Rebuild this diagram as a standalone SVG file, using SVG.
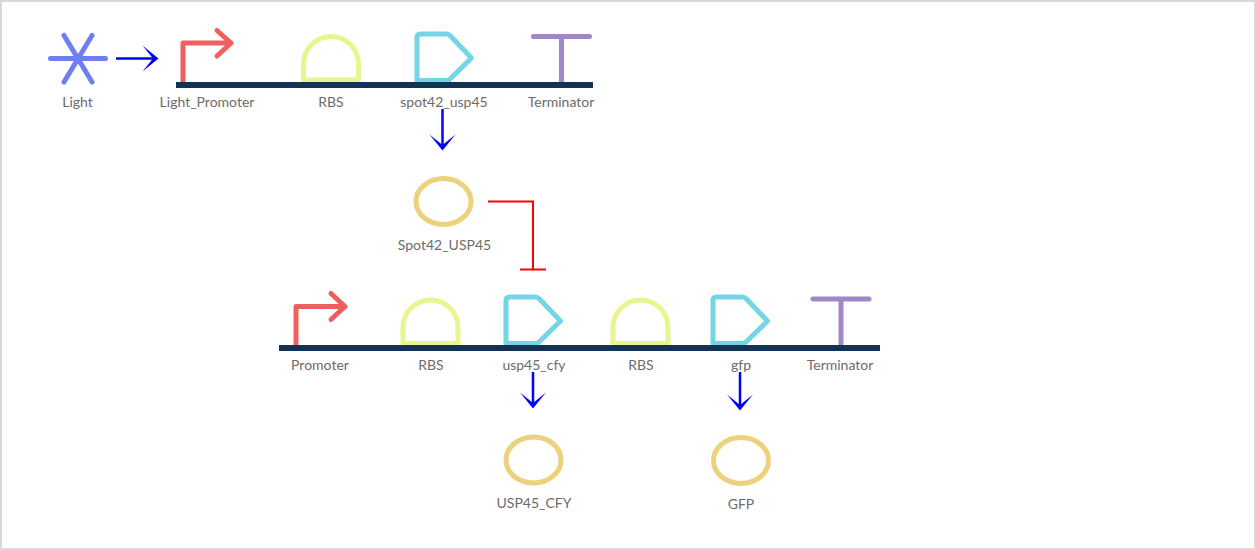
<svg xmlns="http://www.w3.org/2000/svg" width="1256" height="550" viewBox="0 0 1256 550">
<defs>
<style>
text{font-family:"Lato","Liberation Sans",sans-serif;font-size:14px;fill:#6b6b6b;text-anchor:middle}
.g{fill:none;stroke-width:5;stroke-linecap:round;stroke-linejoin:round}
.bb{fill:#133355}
.light{stroke:#6f7ff0}.prom{stroke:#f05f5f}.rbs{stroke:#e9f58f}.cds{stroke:#73d5e6}.term{stroke:#a088c8}.prot{stroke:#ecd27c}
.a{fill:none;stroke:#00f;stroke-width:2.500}
.h{fill:#00f}
.r{fill:none;stroke:#f00;stroke-width:2}
</style>
<path id="ah" class="h" d="M-16,-13L0,0L-16,13L-5.500,0Z"/>
<g id="rbsShape"><path class="g rbs" d="M2.500,46V30A27.500,27.500 0 0 1 57.500,30V46Z"/></g>
<g id="cdsShape"><path class="g cds" d="M2.500,50V7Q2.500,3.500 6,3.500H32Q34,3.500 36,5.500L57,27.500L34,50Z"/></g>
<g id="termShape"><path class="g term" d="M0,0H56M28,0V45"/></g>
<ellipse id="protShape" class="g prot" rx="27.500" ry="23"/>
</defs>
<rect width="1256" height="550" fill="#fff"/>
<rect x="1" y="1" width="1254" height="548" fill="none" stroke="#d9d9d9" stroke-width="2"/>
<g id="connectors">
<path class="a" d="M116,58.500H155"/><use href="#ah" transform="translate(158.500,58.500)"/>
<path class="a" d="M442.500,109V147"/><use href="#ah" transform="translate(442.500,150.500) rotate(90)"/>
<path class="r" d="M488,201.500H533V269.500M520,269.500H546"/>
<path class="a" d="M533,372V405"/><use href="#ah" transform="translate(533,408.500) rotate(90)"/>
<path class="a" d="M740,372V407"/><use href="#ah" transform="translate(740,410.500) rotate(90)"/>
</g>
<g id="light"><path class="g light" d="M50.500,58.500H105.500M64,35.500L92,82M92,35.500L64,82"/><text x="77.500" y="106.500">Light</text></g>
<g id="light-promoter"><path class="g prom" d="M183,82V43H231M217,30.500L231,43L217,56"/><text x="207" y="106.500">Light_Promoter</text></g>
<g id="rbs1"><use href="#rbsShape" transform="translate(301,34)"/><text x="331" y="106.500">RBS</text></g>
<g id="spot42-usp45"><use href="#cdsShape" transform="translate(414.500,30.500)"/><text x="444" y="106.500">spot42_usp45</text></g>
<g id="terminator1"><use href="#termShape" transform="translate(533.500,36.500)"/><text x="561" y="106.500">Terminator</text></g>
<g id="spot42-usp45-protein"><use href="#protShape" transform="translate(443.500,201.500)"/><text x="444.500" y="249.500">Spot42_USP45</text></g>
<g id="promoter"><path class="g prom" d="M296,345V306.500H345M331,293.500L345,306.500L331,319.500"/><text x="320" y="369.500">Promoter</text></g>
<g id="rbs2"><use href="#rbsShape" transform="translate(400.500,297.500)"/><text x="431" y="369.500">RBS</text></g>
<g id="usp45-cfy"><use href="#cdsShape" transform="translate(503.500,293.500)"/><text x="534" y="369.500">usp45_cfy</text></g>
<g id="rbs3"><use href="#rbsShape" transform="translate(610.500,297.500)"/><text x="641" y="369.500">RBS</text></g>
<g id="gfp"><use href="#cdsShape" transform="translate(710.500,293.500)"/><text x="741" y="369.500">gfp</text></g>
<g id="terminator2"><use href="#termShape" transform="translate(813,299)"/><text x="840" y="369.500">Terminator</text></g>
<g id="usp45-cfy-protein"><use href="#protShape" transform="translate(533.500,460)"/><text x="534" y="507.500">USP45_CFY</text></g>
<g id="gfp-protein"><use href="#protShape" transform="translate(741,460.500)"/><text x="741" y="508.500">GFP</text></g>
<g id="backbone1"><rect class="bb" x="176" y="82" width="417" height="6"/></g>
<g id="backbone2"><rect class="bb" x="279" y="345" width="601" height="6"/></g>
</svg>
